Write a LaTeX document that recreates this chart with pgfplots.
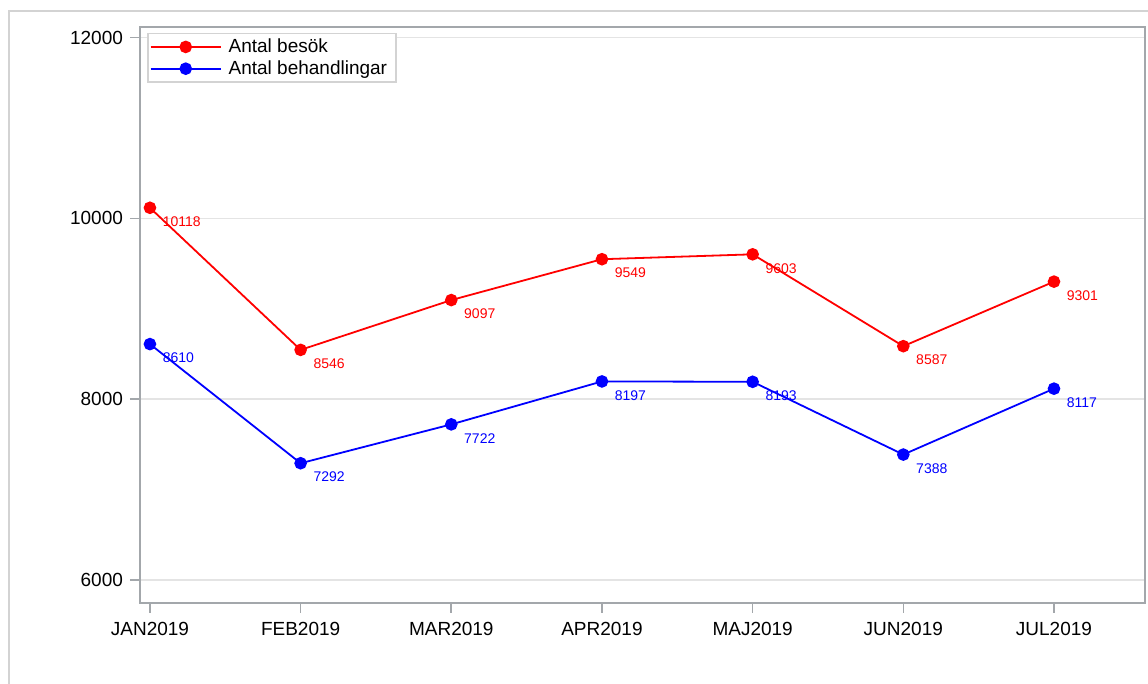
\documentclass[border=0pt]{standalone}
\usepackage{pgfplots}
\pgfplotsset{compat=1.18}
\usepackage{fontspec}
\setmainfont{Liberation Sans}
\definecolor{axgray}{HTML}{A3A7AB}
\definecolor{gridgray}{HTML}{E4E4E4}
\definecolor{framegray}{HTML}{D3D3D3}
\begin{document}
\begin{tikzpicture}
\useasboundingbox (0,0) rectangle (574pt,342pt);
\draw[framegray, line width=1pt] (4.5pt,-1pt) -- (4.5pt,336.5pt) -- (575pt,336.5pt);
\begin{axis}[
  at={(70pt,40.5pt)}, anchor=south west,
  scale only axis, width=502.5pt, height=288pt,
  xmin=-0.066, xmax=6.604,
  ymin=5746, ymax=12118,
  xtick={0,1,2,3,4,5,6},
  xticklabels={JAN2019,FEB2019,MAR2019,APR2019,MAJ2019,JUN2019,JUL2019},
  ytick={6000,8000,10000,12000},
  tick align=outside,
  major tick length=5pt,
  every tick/.style={axgray, line width=0.8pt},
  xtick pos=bottom, ytick pos=left,
  axis line style={axgray, line width=1pt},
  ymajorgrids,
  major grid style={gridgray, line width=0.8pt},
  tick label style={font=\fontsize{9.5}{11}\selectfont},
  xticklabel style={yshift=-1pt},
  /pgf/number format/assume math mode=true,
  /pgf/number format/set thousands separator={},
  scaled y ticks=false,
  legend style={at={(0.007,0.99)}, anchor=north west,
    draw=framegray, line width=0.8pt,
    font=\fontsize{9.5}{10.5}\selectfont,
    inner xsep=1pt, inner ysep=0.5pt,
    row sep=-1.5pt,
    nodes={inner xsep=3.5pt}},
  legend cell align=left,
  legend image code/.code={
    \draw[#1, mark=none] (0pt,0pt) -- (35pt,0pt);
    \fill[#1] (17.5pt,0pt) circle (2.7pt);
  },
]
\addplot[red, line width=0.9pt, mark=*, mark size=2.7pt,
  nodes near coords,
  every node near coord/.append style={text=red, font=\fontsize{7}{8}\selectfont,
    anchor=north west, inner sep=0pt, xshift=6pt, yshift=-4pt},
  point meta=explicit symbolic]
  coordinates {(0,10118)[10118] (1,8546)[8546] (2,9097)[9097] (3,9549)[9549]
               (4,9603)[9603] (5,8587)[8587] (6,9301)[9301]};
\addlegendentry{Antal besök}
\addplot[blue, line width=0.9pt, mark=*, mark size=2.7pt,
  nodes near coords,
  every node near coord/.append style={text=blue, font=\fontsize{7}{8}\selectfont,
    anchor=north west, inner sep=0pt, xshift=6pt, yshift=-4pt},
  point meta=explicit symbolic]
  coordinates {(0,8610)[8610] (1,7292)[7292] (2,7722)[7722] (3,8197)[8197]
               (4,8193)[8193] (5,7388)[7388] (6,8117)[8117]};
\addlegendentry{Antal behandlingar}
\end{axis}
\end{tikzpicture}
\end{document}
